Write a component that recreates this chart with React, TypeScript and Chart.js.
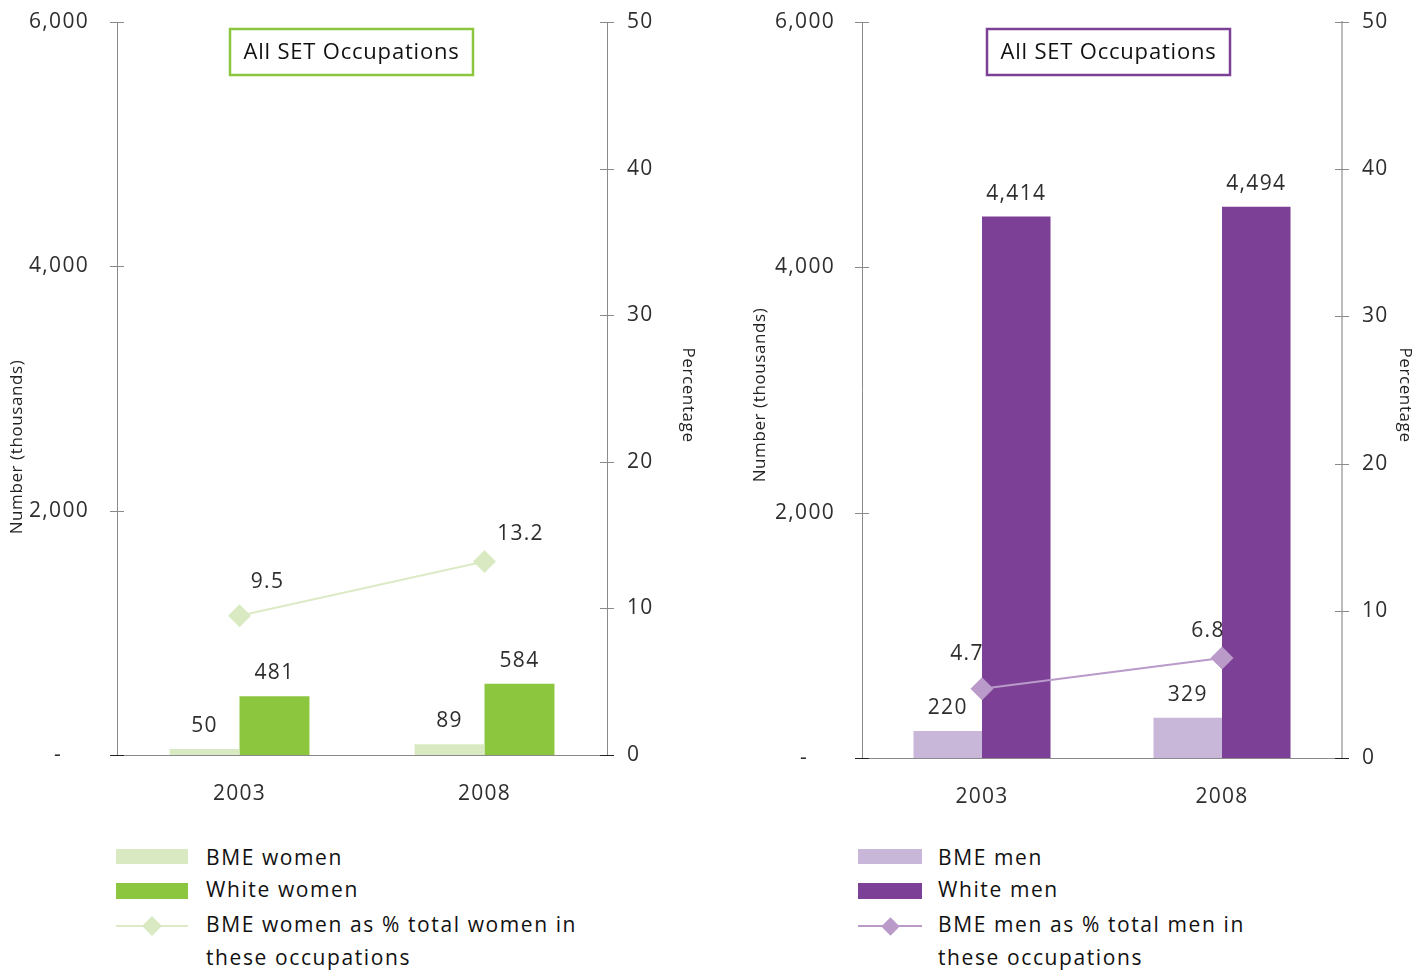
import React, { useEffect, useRef } from 'react';
import { Chart, registerables } from 'chart.js';

Chart.register(...registerables);

// ---------- data ----------
const YEARS = ['2003', '2008'];
const BME_WOMEN = [50, 89];
const WHITE_WOMEN = [481, 584];
const BME_WOMEN_PCT = [9.5, 13.2];
const BME_MEN = [220, 329];
const WHITE_MEN = [4414, 4494];
const BME_MEN_PCT = [4.7, 6.8];
const NUMBER_MAX = 6000;
const NUMBER_STEP = 2000;
const PCT_MAX = 50;
const PCT_STEP = 10;
const PANEL_TITLE = 'All SET Occupations';
const Y_TITLE = 'Number (thousands)';
const Y2_TITLE = 'Percentage';
const WOMEN_LABELS = ['BME women', 'White women', 'BME women as % total women in', 'these occupations'];
const MEN_LABELS = ['BME men', 'White men', 'BME men as % total men in', 'these occupations'];

// ---------- styles ----------
const FONT = '"Open Sans", "DejaVu Sans", sans-serif';
const TICK_COLOR = '#2e2e2e';
const TEXT_COLOR = '#111111';
const AXIS_GRAY = '#8a8a8a';

type Panel = {
  left: number;
  width: number;
  height: number;
  yWidth: number;
  y2Width: number;
  xHeight: number;
  yPad: number;
  bme: number[];
  white: number[];
  pct: number[];
  labels: string[];
  bmeColor: string;
  whiteColor: string;
  lineColor: string;
  pointColor: string;
  titleColor: string;
  y2Color: string;
  y2Width2: number;
  box: { x: number; y: number; w: number; h: number };
  yTitle: { x: number; y: number };
  y2Title: { x: number; y: number };
  pctOffsets: number[][];
};

const WOMEN_PANEL: Panel = {
  left: 0,
  width: 712,
  height: 820,
  yWidth: 117,
  y2Width: 105,
  xHeight: 65,
  yPad: 28,
  bme: BME_WOMEN,
  white: WHITE_WOMEN,
  pct: BME_WOMEN_PCT,
  labels: WOMEN_LABELS,
  bmeColor: '#d9eac2',
  whiteColor: '#8cc63f',
  lineColor: '#dcebc6',
  pointColor: '#d9eac2',
  titleColor: '#8cc63f',
  y2Color: '#8a8a8a',
  y2Width2: 1,
  box: { x: 230, y: 29, w: 243, h: 46 },
  yTitle: { x: 17, y: 447 },
  y2Title: { x: 688, y: 395 },
  pctOffsets: [[28, -34], [36, -27]],
};

const MEN_PANEL: Panel = {
  left: 712,
  width: 713,
  height: 820,
  yWidth: 150,
  y2Width: 83,
  xHeight: 62,
  yPad: 27,
  bme: BME_MEN,
  white: WHITE_MEN,
  pct: BME_MEN_PCT,
  labels: MEN_LABELS,
  bmeColor: '#c8b7d9',
  whiteColor: '#7c4196',
  lineColor: '#b99ac9',
  pointColor: '#b99ac9',
  titleColor: '#7c4196',
  y2Color: '#bdbdbd',
  y2Width2: 2,
  box: { x: 275, y: 29, w: 243, h: 46 },
  yTitle: { x: 48, y: 395 },
  y2Title: { x: 693, y: 395 },
  pctOffsets: [[-15, -35], [-14, -27]],
};

const fmt = (v: number) => v.toLocaleString('en-US');

function makeDecor(p: Panel) {
  return {
    id: 'decor',
    beforeDraw(chart: any) {
      chart.ctx.letterSpacing = '1.3px';
    },
    afterDraw(chart: any) {
      const { ctx, chartArea: a, scales } = chart;
      ctx.save();
      ctx.letterSpacing = '1.3px';
      // x axis line
      const yb = Math.round(a.bottom) + 0.5;
      ctx.strokeStyle = AXIS_GRAY;
      ctx.lineWidth = 1;
      ctx.beginPath();
      ctx.moveTo(a.left - 7, yb);
      ctx.lineTo(a.right + 7, yb);
      ctx.stroke();
      // tick marks crossing the axes
      const drawTicks = (scale: any, x: number) => {
        scale.ticks.forEach((t: any) => {
          const y = Math.round(scale.getPixelForValue(t.value)) + 0.5;
          ctx.strokeStyle = t.value === 0 ? '#222222' : AXIS_GRAY;
          ctx.beginPath();
          ctx.moveTo(x - 7, y);
          ctx.lineTo(x + 7, y);
          ctx.stroke();
        });
      };
      drawTicks(scales.y, Math.round(a.left));
      drawTicks(scales.y2, Math.round(a.right));

      // bar value labels
      ctx.fillStyle = TICK_COLOR;
      ctx.font = `21px ${FONT}`;
      ctx.textAlign = 'center';
      ctx.textBaseline = 'middle';
      [0, 1].forEach((di) => {
        const meta = chart.getDatasetMeta(di);
        const data = chart.data.datasets[di].data as number[];
        meta.data.forEach((el: any, i: number) => {
          ctx.fillText(fmt(data[i]), el.x, el.y - 23);
        });
      });
      // line value labels
      const lm = chart.getDatasetMeta(2);
      const ld = chart.data.datasets[2].data as number[];
      lm.data.forEach((el: any, i: number) => {
        const [dx, dy] = p.pctOffsets[i];
        ctx.fillText(ld[i].toFixed(1), el.x + dx, el.y + dy);
      });

      // title box
      const b = p.box;
      ctx.strokeStyle = p.titleColor;
      ctx.lineWidth = 2.5;
      ctx.strokeRect(b.x, b.y, b.w, b.h);
      ctx.fillStyle = '#111111';
      ctx.font = `500 22px ${FONT}`;
      ctx.letterSpacing = '0.8px';
      ctx.fillText(PANEL_TITLE, b.x + b.w / 2, b.y + b.h / 2 + 1);

      // axis titles
      ctx.font = `17px ${FONT}`;
      ctx.fillStyle = '#222222';
      ctx.letterSpacing = '0.6px';
      ctx.save();
      ctx.translate(p.yTitle.x, p.yTitle.y);
      ctx.rotate(-Math.PI / 2);
      ctx.fillText(Y_TITLE, 0, 0);
      ctx.restore();
      ctx.save();
      ctx.translate(p.y2Title.x, p.y2Title.y);
      ctx.rotate(Math.PI / 2);
      ctx.fillText(Y2_TITLE, 0, 0);
      ctx.restore();
      ctx.restore();
    },
  };
}

function ChartPanel({ p }: { p: Panel }) {
  const ref = useRef<HTMLCanvasElement>(null);
  useEffect(() => {
    const tickFont = { family: FONT, size: 21 };
    const chart = new Chart(ref.current as HTMLCanvasElement, {
      type: 'bar',
      data: {
        labels: YEARS,
        datasets: [
          {
            type: 'bar',
            label: p.labels[0],
            data: p.bme,
            backgroundColor: p.bmeColor,
            borderWidth: 0,
            barPercentage: 1,
            categoryPercentage: 0.571,
            yAxisID: 'y',
            order: 2,
          },
          {
            type: 'bar',
            label: p.labels[1],
            data: p.white,
            backgroundColor: p.whiteColor,
            borderWidth: 0,
            barPercentage: 1,
            categoryPercentage: 0.571,
            yAxisID: 'y',
            order: 2,
          },
          {
            type: 'line',
            label: p.labels[2] + ' ' + p.labels[3],
            data: p.pct,
            borderColor: p.lineColor,
            borderWidth: 2,
            pointStyle: 'rectRot',
            pointRadius: 11.5,
            pointBackgroundColor: p.pointColor,
            pointBorderColor: p.pointColor,
            pointBorderWidth: 0,
            yAxisID: 'y2',
            order: 0,
          } as any,
        ],
      },
      options: {
        responsive: false,
        animation: false,
        layout: { padding: { top: 22, left: 0, right: 0, bottom: 0 } },
        plugins: {
          legend: { display: false },
          tooltip: { enabled: false },
          title: { display: false },
        },
        scales: {
          x: {
            type: 'category',
            offset: true,
            grid: { display: false, drawTicks: false },
            border: { display: false },
            ticks: { color: TICK_COLOR, font: tickFont, padding: 26, maxRotation: 0 },
            afterFit: (s: any) => {
              s.height = p.xHeight;
              s.paddingLeft = 0;
              s.paddingRight = 0;
            },
          },
          y: {
            position: 'left',
            min: 0,
            max: NUMBER_MAX,
            grid: { display: false, drawTicks: false },
            border: { display: true, color: AXIS_GRAY, width: 1 },
            ticks: {
              stepSize: NUMBER_STEP,
              padding: p.yPad,
              color: TICK_COLOR,
              font: tickFont,
              callback: (v: any) => (Number(v) === 0 ? '-    ' : fmt(Number(v))),
            },
            afterFit: (s: any) => {
              s.width = p.yWidth;
              s.paddingTop = 0;
              s.paddingBottom = 0;
            },
          },
          y2: {
            position: 'right',
            min: 0,
            max: PCT_MAX,
            grid: { display: false, drawTicks: false },
            border: { display: true, color: p.y2Color, width: p.y2Width2 },
            ticks: {
              stepSize: PCT_STEP,
              padding: 20,
              color: TICK_COLOR,
              font: tickFont,
            },
            afterFit: (s: any) => {
              s.width = p.y2Width;
              s.paddingTop = 0;
              s.paddingBottom = 0;
            },
          },
        },
      } as any,
      plugins: [makeDecor(p)],
    });
    return () => chart.destroy();
  }, []);
  return (
    <canvas
      ref={ref}
      width={p.width}
      height={p.height}
      style={{ position: 'absolute', left: p.left, top: 0, width: p.width, height: p.height }}
    />
  );
}

type LegendProps = {
  x: number;
  swatchW: number;
  textX: number;
  labels: string[];
  bmeColor: string;
  whiteColor: string;
  lineColor: string;
  pointColor: string;
  diamond: number;
};

function Legend(l: LegendProps) {
  const text = (s: string, cy: number) => (
    <div
      style={{
        position: 'absolute',
        left: l.textX,
        top: cy - 17,
        height: 30,
        lineHeight: '30px',
        fontFamily: FONT,
        fontSize: 21,
        fontWeight: 500,
        letterSpacing: '1.6px',
        color: TEXT_COLOR,
        whiteSpace: 'nowrap',
      }}
    >
      {s}
    </div>
  );
  const d = l.diamond;
  return (
    <>
      <div style={{ position: 'absolute', left: l.x, top: 849, width: l.swatchW, height: 15, background: l.bmeColor }} />
      {text(l.labels[0], 859)}
      <div style={{ position: 'absolute', left: l.x, top: 883, width: l.swatchW, height: 16, background: l.whiteColor }} />
      {text(l.labels[1], 891)}
      <div style={{ position: 'absolute', left: l.x, top: 925, width: l.swatchW, height: 2, background: l.lineColor }} />
      <div
        style={{
          position: 'absolute',
          left: l.x + l.swatchW / 2 - d / 2,
          top: 926 - d / 2,
          width: d,
          height: d,
          background: l.pointColor,
          transform: 'rotate(45deg)',
        }}
      />
      {text(l.labels[2], 926)}
      {text(l.labels[3], 959)}
    </>
  );
}

export default function App() {
  return (
    <div style={{ position: 'absolute', left: 0, top: 0, width: 1425, height: 974, background: '#ffffff', overflow: 'hidden' }}>
      <ChartPanel p={WOMEN_PANEL} />
      <ChartPanel p={MEN_PANEL} />
      <Legend
        x={116}
        swatchW={72}
        textX={206}
        labels={WOMEN_LABELS}
        bmeColor={WOMEN_PANEL.bmeColor}
        whiteColor={WOMEN_PANEL.whiteColor}
        lineColor={WOMEN_PANEL.lineColor}
        pointColor={WOMEN_PANEL.pointColor}
        diamond={14}
      />
      <Legend
        x={858}
        swatchW={64}
        textX={938}
        labels={MEN_LABELS}
        bmeColor={MEN_PANEL.bmeColor}
        whiteColor={MEN_PANEL.whiteColor}
        lineColor={MEN_PANEL.lineColor}
        pointColor={MEN_PANEL.pointColor}
        diamond={13}
      />
    </div>
  );
}
